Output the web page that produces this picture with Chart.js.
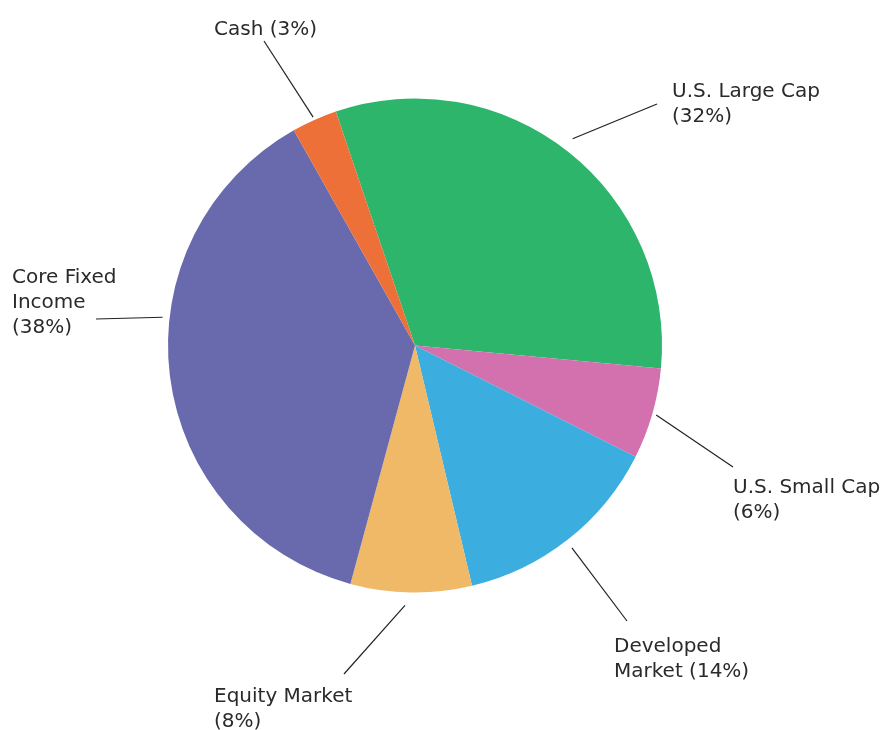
<!DOCTYPE html>
<html>
<head>
<meta charset="utf-8">
<script src="https://cdn.jsdelivr.net/npm/chart.js@4"></script>
<style>
  html, body { margin: 0; padding: 0; background: #fff; }
  #wrap { width: 882px; height: 730px; position: relative; }
</style>
</head>
<body>
<div id="wrap"><canvas id="chart_allocation"></canvas></div>
<script>
const categories = ['U.S. Large Cap', 'U.S. Small Cap', 'Developed Market', 'Equity Market', 'Core Fixed Income', 'Cash'];
const weights = [32, 6, 14, 8, 38, 3];
const sliceColors = ['#2eb56c', '#d370ae', '#3badde', '#efb967', '#6969ad', '#ee7039'];

// how each label is broken into lines (text only)
const labelLines = [
  ['U.S. Large Cap', '(32%)'],
  ['U.S. Small Cap', '(6%)'],
  ['Developed', 'Market (14%)'],
  ['Equity Market', '(8%)'],
  ['Core Fixed', 'Income', '(38%)'],
  ['Cash (3%)']
];

// label placement: text anchor (left, first baseline), leader end, gap from pie edge, angle shift
const labelLayout = [
  { x: 672, y: 97,  endX: 657, endY: 104, gap: 13, shift: -1 },
  { x: 733, y: 493, endX: 733, endY: 467, gap: 4,  shift: 0 },
  { x: 614, y: 652, endX: 627, endY: 621, gap: 9,  shift: 0.5 },
  { x: 214, y: 702, endX: 344, endY: 674, gap: 13, shift: 1.3 },
  { x: 12,  y: 283, endX: 96,  endY: 319, gap: 7,  shift: 13.5 },
  { x: 214, y: 35,  endX: 264, endY: 41,  gap: 3,  shift: 0 }
];

const leaderLabels = {
  id: 'leaderLabels',
  afterDatasetsDraw(chart) {
    const ctx = chart.ctx;
    const arcs = chart.getDatasetMeta(0).data;
    ctx.save();
    arcs.forEach((arc, i) => {
      const lay = labelLayout[i];
      const mid = (arc.startAngle + arc.endAngle) / 2 + lay.shift * Math.PI / 180;
      const r = arc.outerRadius + lay.gap;
      const sx = arc.x + Math.cos(mid) * r;
      const sy = arc.y + Math.sin(mid) * r;
      ctx.strokeStyle = '#222222';
      ctx.lineWidth = 1.2;
      ctx.beginPath();
      ctx.moveTo(sx, sy);
      ctx.lineTo(lay.endX, lay.endY);
      ctx.stroke();

      ctx.fillStyle = '#2a2a2a';
      ctx.font = '20px "DejaVu Sans"';
      ctx.textAlign = 'left';
      ctx.textBaseline = 'alphabetic';
      labelLines[i].forEach((line, j) => {
        ctx.fillText(line, lay.x, lay.y + j * 25);
      });
    });
    ctx.restore();
  }
};

new Chart(document.getElementById('chart_allocation'), {
  type: 'pie',
  data: {
    labels: categories,
    datasets: [{
      data: weights,
      backgroundColor: sliceColors,
      borderWidth: 0
    }]
  },
  options: {
    responsive: true,
    maintainAspectRatio: false,
    animation: false,
    rotation: -18.7,
    layout: {
      padding: { left: 168, right: 220, top: 98, bottom: 137 }
    },
    plugins: {
      legend: { display: false },
      tooltip: { enabled: false }
    }
  },
  plugins: [leaderLabels]
});
</script>
</body>
</html>
